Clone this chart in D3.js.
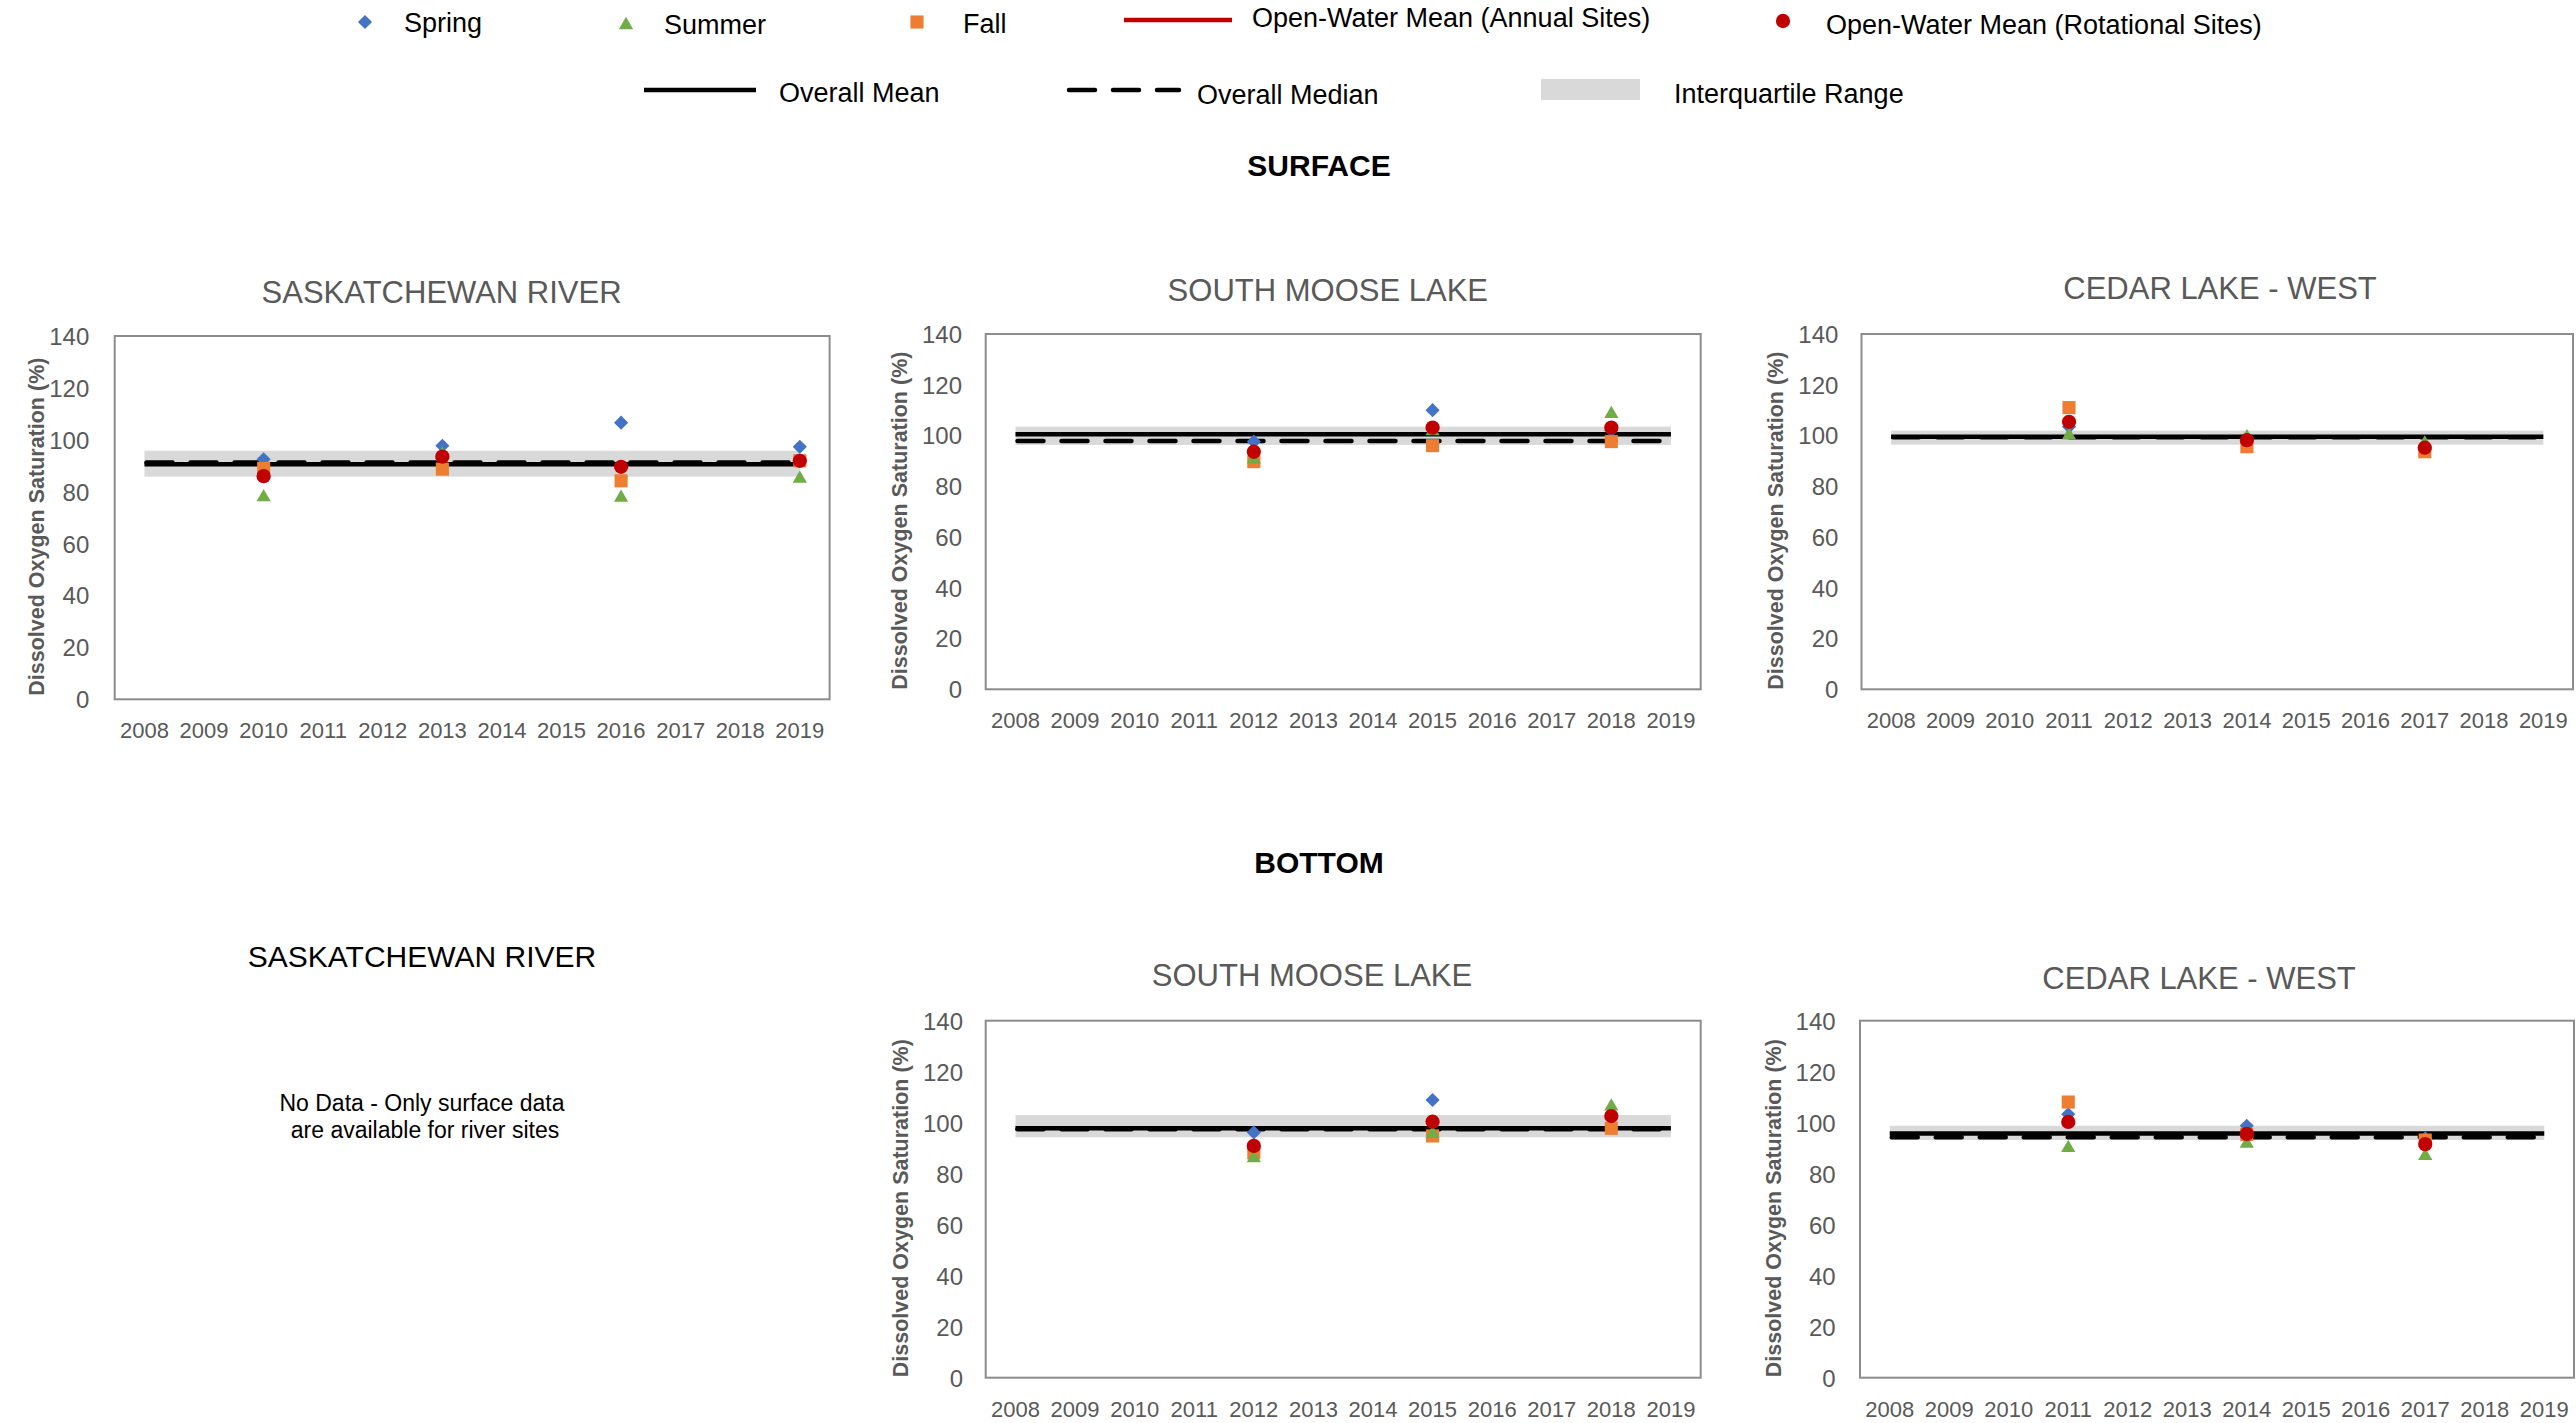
<!DOCTYPE html>
<html>
<head>
<meta charset="utf-8">
<title>Dissolved Oxygen Saturation</title>
<script src="https://cdn.jsdelivr.net/npm/d3@7"></script>
<style>
  html, body { margin: 0; padding: 0; background: #ffffff; }
  svg { display: block; }
  text { font-family: "Liberation Sans", Arial, sans-serif; }
</style>
</head>
<body>
<svg id="chart" width="2576" height="1423"></svg>
<script>
// ---- category and tick labels ----
const yearLabels = ["2008", "2009", "2010", "2011", "2012", "2013", "2014", "2015", "2016", "2017", "2018", "2019"];
const valueTicks = [0, 20, 40, 60, 80, 100, 120, 140];
const seasonNames = ["Spring", "Summer", "Fall"];

// ---- Saskatchewan River, surface ----
const srSurfYears  = ["2010", "2013", "2016", "2019"];
const srSurfSpring = [92.5, 97.7, 106.6, 97.3];
const srSurfSummer = [78.7, 95.0, 78.5, 85.8];
const srSurfFall   = [89.0, 88.7, 84.2, 91.9];
const srSurfMean   = [86.0, 93.5, 89.6, 91.9];
// overall mean, overall median, 25th percentile, 75th percentile
const srSurfStats  = [90.6, 91.3, 85.8, 95.8];

// ---- South Moose Lake, surface ----
const smSurfYears  = ["2012", "2015", "2018"];
const smSurfSpring = [97.6, 110.0, 102.0];
const smSurfSummer = [91.4, 102.5, 109.3];
const smSurfFall   = [89.7, 96.0, 97.6];
const smSurfMean   = [93.6, 103.1, 103.1];
const smSurfStats  = [100.5, 97.8, 96.3, 103.5];

// ---- Cedar Lake - West, surface ----
const clSurfYears  = ["2011", "2014", "2017"];
const clSurfSpring = [103.5, 98.5, 94.5];
const clSurfSummer = [100.9, 100.1, 97.7];
const clSurfFall   = [111.0, 95.6, 93.6];
const clSurfMean   = [105.4, 98.2, 95.2];
const clSurfStats  = [99.5, 99.3, 96.4, 101.9];

// ---- South Moose Lake, bottom ----
const smBotYears  = ["2012", "2015", "2018"];
const smBotSpring = [96.2, 108.9, 102.8];
const smBotSummer = [86.9, 96.5, 107.2];
const smBotFall   = [88.2, 94.8, 97.8];
const smBotMean   = [90.9, 100.4, 102.6];
const smBotStats  = [97.8, 97.4, 94.3, 103.0];

// ---- Cedar Lake - West, bottom ----
const clBotYears  = ["2011", "2014", "2017"];
const clBotSpring = [103.3, 98.8, 93.9];
const clBotSummer = [90.9, 92.6, 87.8];
const clBotFall   = [108.1, 95.4, 93.2];
const clBotMean   = [100.3, 95.6, 91.6];
const clBotStats  = [95.8, 94.3, 93.2, 98.8];

// ---- colours ----
const colSpring = "#4472C4";
const colSummer = "#70AD47";
const colFall   = "#ED7D31";
const colMean   = "#C00000";
const colIQR    = "#D9D9D9";
const colText   = "#595959";
const colFrame  = "#8C8C8C";

// ---- marker shapes (centred on the value) ----
const diamondShape = {
  draw(ctx, size) {
    const r = Math.sqrt(size / 2);
    ctx.moveTo(0, -r); ctx.lineTo(r, 0); ctx.lineTo(0, r); ctx.lineTo(-r, 0); ctx.closePath();
  }
};
const triangleShape = {
  draw(ctx, size) {
    const s = Math.sqrt(size * 4 / Math.sqrt(3));
    const h = s * Math.sqrt(3) / 2;
    ctx.moveTo(0, -h / 2); ctx.lineTo(s / 2, h / 2); ctx.lineTo(-s / 2, h / 2); ctx.closePath();
  }
};
const symDiamond  = d3.symbol().type(diamondShape).size(100);
const symTriangle = d3.symbol().type(triangleShape).size(88);
const symSquare   = d3.symbol().type(d3.symbolSquare).size(172);
const symCircle   = d3.symbol().type(d3.symbolCircle).size(160);

const svg = d3.select("#chart");

// ---- legend ----
const legend = svg.append("g").attr("class", "legend").attr("font-size", 27).attr("fill", "#000");
legend.append("path").attr("d", symDiamond()).attr("transform", "translate(365,22)").attr("fill", colSpring);
legend.append("text").attr("x", 404).attr("y", 32).text(seasonNames[0]);
legend.append("path").attr("d", symTriangle()).attr("transform", "translate(626,23)").attr("fill", colSummer);
legend.append("text").attr("x", 664).attr("y", 34).text(seasonNames[1]);
legend.append("path").attr("d", symSquare()).attr("transform", "translate(917,22)").attr("fill", colFall);
legend.append("text").attr("x", 963).attr("y", 33).text(seasonNames[2]);
legend.append("line").attr("x1", 1124).attr("x2", 1232).attr("y1", 20).attr("y2", 20)
  .attr("stroke", colMean).attr("stroke-width", 4.5);
legend.append("text").attr("x", 1252).attr("y", 27).text("Open-Water Mean (Annual Sites)");
legend.append("path").attr("d", symCircle()).attr("transform", "translate(1783,21)").attr("fill", colMean);
legend.append("text").attr("x", 1826).attr("y", 34).text("Open-Water Mean (Rotational Sites)");

legend.append("line").attr("x1", 644).attr("x2", 756).attr("y1", 90).attr("y2", 90)
  .attr("stroke", "#000").attr("stroke-width", 4.5);
legend.append("text").attr("x", 779).attr("y", 102).text("Overall Mean");
legend.append("line").attr("x1", 1069).attr("x2", 1179).attr("y1", 90).attr("y2", 90)
  .attr("stroke", "#000").attr("stroke-width", 4.5).attr("stroke-linecap", "round")
  .attr("stroke-dasharray", "26,18");
legend.append("text").attr("x", 1197).attr("y", 104).text("Overall Median");
legend.append("rect").attr("x", 1541).attr("y", 79).attr("width", 99).attr("height", 21).attr("fill", colIQR);
legend.append("text").attr("x", 1674).attr("y", 103).text("Interquartile Range");

// ---- section headings ----
svg.append("text").attr("x", 1319).attr("y", 176).attr("text-anchor", "middle")
  .attr("font-size", 30).attr("font-weight", "bold").text("SURFACE");
svg.append("text").attr("x", 1319).attr("y", 873).attr("text-anchor", "middle")
  .attr("font-size", 30).attr("font-weight", "bold").text("BOTTOM");

// ---- panels ----
const panels = [
  { title: "SASKATCHEWAN RIVER", years: srSurfYears, spring: srSurfSpring, summer: srSurfSummer,
    fall: srSurfFall, mean: srSurfMean, stats: srSurfStats,
    box: { L: 114.7, R: 829.6, T: 336, B: 699.3, titleX: 441.6, titleY: 303, yTitleX: 36, tickRight: 89.3 } },
  { title: "SOUTH MOOSE LAKE", years: smSurfYears, spring: smSurfSpring, summer: smSurfSummer,
    fall: smSurfFall, mean: smSurfMean, stats: smSurfStats,
    box: { L: 985.7, R: 1700.7, T: 334, B: 689.3, titleX: 1327.8, titleY: 301, yTitleX: 899, tickRight: 962 } },
  { title: "CEDAR LAKE - WEST", years: clSurfYears, spring: clSurfSpring, summer: clSurfSummer,
    fall: clSurfFall, mean: clSurfMean, stats: clSurfStats,
    box: { L: 1861.5, R: 2573, T: 334, B: 689.3, titleX: 2220, titleY: 299, yTitleX: 1774.7, tickRight: 1838.4 } },
  { title: "SOUTH MOOSE LAKE", years: smBotYears, spring: smBotSpring, summer: smBotSummer,
    fall: smBotFall, mean: smBotMean, stats: smBotStats,
    box: { L: 985.7, R: 1700.7, T: 1020.7, B: 1377.7, titleX: 1312, titleY: 986, yTitleX: 899.7, tickRight: 963 } },
  { title: "CEDAR LAKE - WEST", years: clBotYears, spring: clBotSpring, summer: clBotSummer,
    fall: clBotFall, mean: clBotMean, stats: clBotStats,
    box: { L: 1860, R: 2574, T: 1020.7, B: 1377.7, titleX: 2199, titleY: 989, yTitleX: 1772.8, tickRight: 1835.6 } }
];

panels.forEach(p => {
  const b = p.box;
  const g = svg.append("g");

  const x = d3.scaleBand().domain(yearLabels).range([b.L, b.R]).padding(0);
  const y = d3.scaleLinear().domain([0, 140]).range([b.B, b.T]);
  const cx = v => x(v) + x.bandwidth() / 2;

  // chart title
  g.append("text").attr("x", b.titleX).attr("y", b.titleY).attr("text-anchor", "middle")
    .attr("font-size", 31).attr("fill", colText).text(p.title);

  // plot frame
  g.append("rect").attr("x", b.L).attr("y", b.T).attr("width", b.R - b.L).attr("height", b.B - b.T)
    .attr("fill", "#fff").attr("stroke", colFrame).attr("stroke-width", 2);

  // interquartile band and overall mean / median
  const [sMean, sMedian, sQ1, sQ3] = p.stats;
  const x0 = cx(yearLabels[0]), x1 = cx(yearLabels[yearLabels.length - 1]);
  g.append("rect").attr("x", x0).attr("width", x1 - x0)
    .attr("y", y(sQ3)).attr("height", y(sQ1) - y(sQ3)).attr("fill", colIQR);
  g.append("line").attr("x1", x0).attr("x2", x1).attr("y1", y(sMean)).attr("y2", y(sMean))
    .attr("stroke", "#000").attr("stroke-width", 4.5);
  g.append("line").attr("x1", x0 + 2).attr("x2", x1).attr("y1", y(sMedian)).attr("y2", y(sMedian))
    .attr("stroke", "#000").attr("stroke-width", 4.5).attr("stroke-linecap", "round")
    .attr("stroke-dasharray", "26,18");

  // y axis
  const yAxis = g.append("g").attr("transform", `translate(${b.tickRight},0)`)
    .call(d3.axisLeft(y).tickValues(valueTicks).tickSize(0).tickPadding(0));
  yAxis.select(".domain").remove();
  yAxis.selectAll("text").attr("font-size", 24).attr("fill", colText)
    .attr("font-family", "Liberation Sans, Arial, sans-serif").attr("dy", "0.35em");

  // x axis
  const xAxis = g.append("g").attr("transform", `translate(0,${b.B})`)
    .call(d3.axisBottom(x).tickSize(0).tickPadding(0));
  xAxis.select(".domain").remove();
  xAxis.selectAll("text").attr("font-size", 22).attr("fill", colText)
    .attr("font-family", "Liberation Sans, Arial, sans-serif").attr("y", 39).attr("dy", 0);

  // y axis title
  const yMid = (b.T + b.B) / 2 + 9;
  g.append("text").attr("transform", `translate(${b.yTitleX + 8},${yMid}) rotate(-90)`)
    .attr("text-anchor", "middle").attr("font-size", 21.5).attr("font-weight", "bold")
    .attr("fill", colText).text("Dissolved Oxygen Saturation (%)");

  // seasonal points and open-water means
  const rows = p.years.map((yr, i) => ({ yr, spring: p.spring[i], summer: p.summer[i], fall: p.fall[i], mean: p.mean[i] }));
  const layers = [
    { key: "spring", sym: symDiamond, col: colSpring },
    { key: "fall", sym: symSquare, col: colFall },
    { key: "summer", sym: symTriangle, col: colSummer },
    { key: "mean", sym: symCircle, col: colMean }
  ];
  layers.forEach(l => {
    g.append("g").selectAll("path").data(rows).join("path")
      .attr("d", l.sym())
      .attr("transform", d => `translate(${cx(d.yr)},${y(d[l.key])})`)
      .attr("fill", l.col);
  });
});

// ---- river site without bottom samples ----
svg.append("text").attr("x", 422).attr("y", 967).attr("text-anchor", "middle")
  .attr("font-size", 30).attr("fill", "#000").text("SASKATCHEWAN RIVER");
svg.append("text").attr("x", 422).attr("y", 1111).attr("text-anchor", "middle")
  .attr("font-size", 23).attr("fill", "#000").text("No Data - Only surface data");
svg.append("text").attr("x", 425).attr("y", 1138).attr("text-anchor", "middle")
  .attr("font-size", 23).attr("fill", "#000").text("are available for river sites");
</script>
</body>
</html>
